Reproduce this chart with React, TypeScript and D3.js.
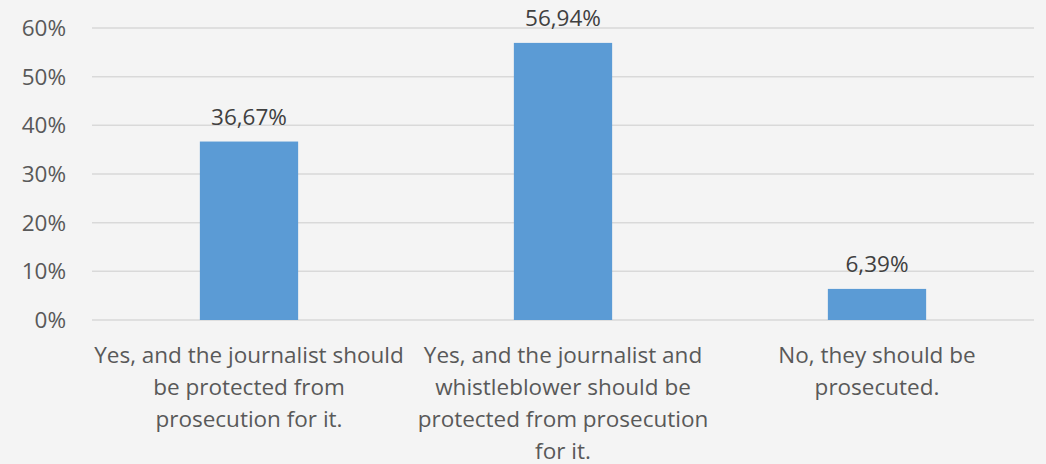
import React from "react";
import * as d3 from "d3";

const categories = [
  "Yes, and the journalist should be protected from prosecution for it.",
  "Yes, and the journalist and whistleblower should be protected from prosecution for it.",
  "No, they should be prosecuted.",
];
const categoryLines = [
  ["Yes, and the journalist should", "be protected from", "prosecution for it."],
  ["Yes, and the journalist and", "whistleblower should be", "protected from prosecution", "for it."],
  ["No, they should be", "prosecuted."],
];
const values = [36.67, 56.94, 6.39];
const yTicks = [0, 10, 20, 30, 40, 50, 60];

const W = 1046;
const H = 464;
const margin = { left: 92, right: 12, top: 28, bottom: 144 };
const FONT = "'Open Sans', 'Noto Sans', sans-serif";
const FS = 22.5;

export default function App() {
  const x = d3
    .scaleBand<number>()
    .domain(categories.map((_, i) => i))
    .range([margin.left, W - margin.right])
    .paddingInner(0.687)
    .paddingOuter(0.3435);
  const y = d3
    .scaleLinear()
    .domain([0, 60])
    .range([H - margin.bottom, margin.top]);
  const fmt = (v: number) => v.toFixed(2).replace(".", ",") + "%";

  return (
    <div style={{ position: "fixed", left: 0, top: 0 }}>
      <svg width={W} height={H} style={{ display: "block", background: "#f4f4f4" }} fontFamily={FONT}>
        <rect x={0} y={0} width={W} height={H} fill="#f4f4f4" />
        {yTicks.map((t) => (
          <g key={t}>
            <line
              x1={margin.left}
              x2={W - margin.right}
              y1={y(t)}
              y2={y(t)}
              stroke="#d9d9d9"
              strokeWidth={1.5}
            />
            <text
              x={66}
              y={y(t)}
              dy="0.35em"
              textAnchor="end"
              fontSize={FS}
              fill="#595959"
            >
              {t}%
            </text>
          </g>
        ))}
        {values.map((v, i) => (
          <g key={i}>
            <rect
              x={x(i)!}
              y={y(v)}
              width={x.bandwidth()}
              height={y(0) - y(v)}
              fill="#5b9bd5"
            />
            <text
              x={x(i)! + x.bandwidth() / 2}
              y={y(v) - 17}
              textAnchor="middle"
              fontSize={FS}
              fill="#404040"
            >
              {fmt(v)}
            </text>
          </g>
        ))}
        {categoryLines.map((lines, i) => {
          const cx = x(i)! + x.bandwidth() / 2;
          return (
            <text key={i} textAnchor="middle" fontSize={FS} fill="#595959">
              {lines.map((ln, j) => (
                <tspan key={j} x={cx} y={363 + j * 32}>
                  {ln}
                </tspan>
              ))}
            </text>
          );
        })}
      </svg>
    </div>
  );
}
